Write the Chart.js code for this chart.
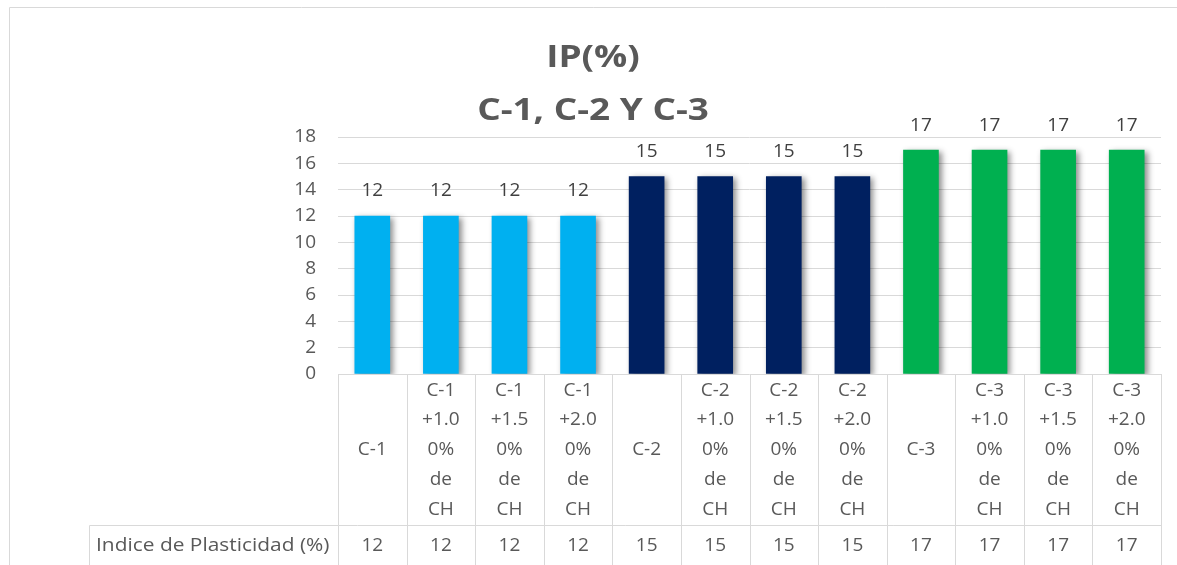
<!DOCTYPE html>
<html>
<head>
<meta charset="utf-8">
<script src="https://cdn.jsdelivr.net/npm/chart.js@4/dist/chart.umd.min.js"></script>
<style>
  html, body { margin: 0; padding: 0; background: #ffffff; }
  #wrap { width: 1177px; height: 565px; position: relative; }
</style>
</head>
<body>
<div id="wrap"><canvas id="chart" width="1177" height="565"></canvas></div>
<script>
// Category labels, already wrapped the way they sit in the table cells
const categories = [
  ["C-1"],
  ["C-1", "+1.0", "0%", "de", "CH"],
  ["C-1", "+1.5", "0%", "de", "CH"],
  ["C-1", "+2.0", "0%", "de", "CH"],
  ["C-2"],
  ["C-2", "+1.0", "0%", "de", "CH"],
  ["C-2", "+1.5", "0%", "de", "CH"],
  ["C-2", "+2.0", "0%", "de", "CH"],
  ["C-3"],
  ["C-3", "+1.0", "0%", "de", "CH"],
  ["C-3", "+1.5", "0%", "de", "CH"],
  ["C-3", "+2.0", "0%", "de", "CH"]
];

// Plasticity index (%) per sample
const plasticityIndex = [12, 12, 12, 12, 15, 15, 15, 15, 17, 17, 17, 17];

// One colour per soil group
const groupColors = ["#00B0F0", "#00B0F0", "#00B0F0", "#00B0F0",
                     "#002060", "#002060", "#002060", "#002060",
                     "#00B050", "#00B050", "#00B050", "#00B050"];

const yTicks = [0, 2, 4, 6, 8, 10, 12, 14, 16, 18];
const titleLines = ["IP(%)", "C-1, C-2 Y C-3"];
const rowLabel = "Indice de Plasticidad (%)";

const FONT = "'Open Sans', 'Liberation Sans', sans-serif";
const GRID = "#d9d9d9";
const TEXT = "#595959";

// Text drawn slightly widened horizontally
function wideText(ctx, text, x, y, sx) {
  ctx.save();
  ctx.translate(x, y);
  ctx.scale(sx, 1);
  ctx.fillText(text, 0, 0);
  ctx.restore();
}

// Soft drop shadow under the bars
const barShadow = {
  id: "barShadow",
  beforeDatasetsDraw(chart) {
    const ctx = chart.ctx;
    ctx.save();
    ctx.shadowColor = "rgba(0,0,0,0.45)";
    ctx.shadowBlur = 6;
    ctx.shadowOffsetX = 3;
    ctx.shadowOffsetY = 2;
  },
  afterDatasetsDraw(chart) {
    chart.ctx.restore();
  }
};

// Frame, title, value labels and the data table underneath the plot
const decorations = {
  id: "decorations",
  afterDraw(chart) {
    const ctx = chart.ctx;
    const area = chart.chartArea;
    const xs = chart.scales.x;
    const meta = chart.getDatasetMeta(0);
    const n = categories.length;
    const colW = (area.right - area.left) / n;

    ctx.save();

    // outer frame (top and left edges)
    ctx.strokeStyle = GRID;
    ctx.lineWidth = 1;
    ctx.beginPath();
    ctx.moveTo(9.5, 565);
    ctx.lineTo(9.5, 7.5);
    ctx.lineTo(1177, 7.5);
    ctx.stroke();

    // title
    ctx.fillStyle = TEXT;
    ctx.textAlign = "center";
    ctx.textBaseline = "middle";
    ctx.font = "bold 31px " + FONT;
    wideText(ctx, titleLines[0], 593, 58, 1.19);
    wideText(ctx, titleLines[1], 593, 111, 1.19);

    // value labels above bars
    ctx.fillStyle = "#404040";
    ctx.font = "19px " + FONT;
    meta.data.forEach((bar, i) => {
      ctx.fillText(String(plasticityIndex[i]), bar.x, bar.y - 25);
    });

    // data table
    const rowTop = area.bottom;
    const rowMid = 525.5;
    const rowBottom = 600;
    const labelLeft = 89.5;

    ctx.strokeStyle = GRID;
    ctx.beginPath();
    for (let i = 0; i <= n; i++) {
      const x = Math.round(area.left + i * colW) + 0.5;
      ctx.moveTo(x, rowTop);
      ctx.lineTo(x, rowBottom);
    }
    ctx.moveTo(labelLeft, rowMid);
    ctx.lineTo(area.right, rowMid);
    ctx.moveTo(labelLeft, rowMid);
    ctx.lineTo(labelLeft, rowBottom);
    ctx.stroke();

    ctx.fillStyle = TEXT;
    ctx.font = "19px " + FONT;
    const lineH = 29.7;
    const cellMid = (rowTop + rowMid) / 2;
    categories.forEach((lines, i) => {
      const cx = xs.getPixelForValue(i);
      const y0 = cellMid - (lines.length - 1) * lineH / 2;
      lines.forEach((t, k) => ctx.fillText(t, cx, y0 + k * lineH));
      ctx.fillText(String(plasticityIndex[i]), cx, 546);
    });

    ctx.textAlign = "left";
    wideText(ctx, rowLabel, 96, 546, 1.1);

    ctx.restore();
  }
};

new Chart(document.getElementById("chart"), {
  type: "bar",
  data: {
    labels: categories,
    datasets: [{
      label: rowLabel,
      data: plasticityIndex,
      backgroundColor: groupColors,
      borderWidth: 0,
      barThickness: 35
    }]
  },
  options: {
    responsive: false,
    devicePixelRatio: 1,
    animation: false,
    layout: { padding: { top: 137, bottom: 191, left: 0, right: 16 } },
    plugins: {
      legend: { display: false },
      title: { display: false },
      tooltip: { enabled: false }
    },
    scales: {
      x: { display: false },
      y: {
        min: 0,
        max: 18,
        afterBuildTicks(scale) { scale.ticks = yTicks.map(v => ({ value: v })); },
        afterFit(scale) { scale.width = 338; },
        border: { display: false },
        grid: { color: GRID, lineWidth: 1, drawTicks: false },
        ticks: {
          padding: 22,
          color: TEXT,
          font: { family: FONT, size: 19 }
        }
      }
    }
  },
  plugins: [barShadow, decorations]
});
</script>
</body>
</html>
